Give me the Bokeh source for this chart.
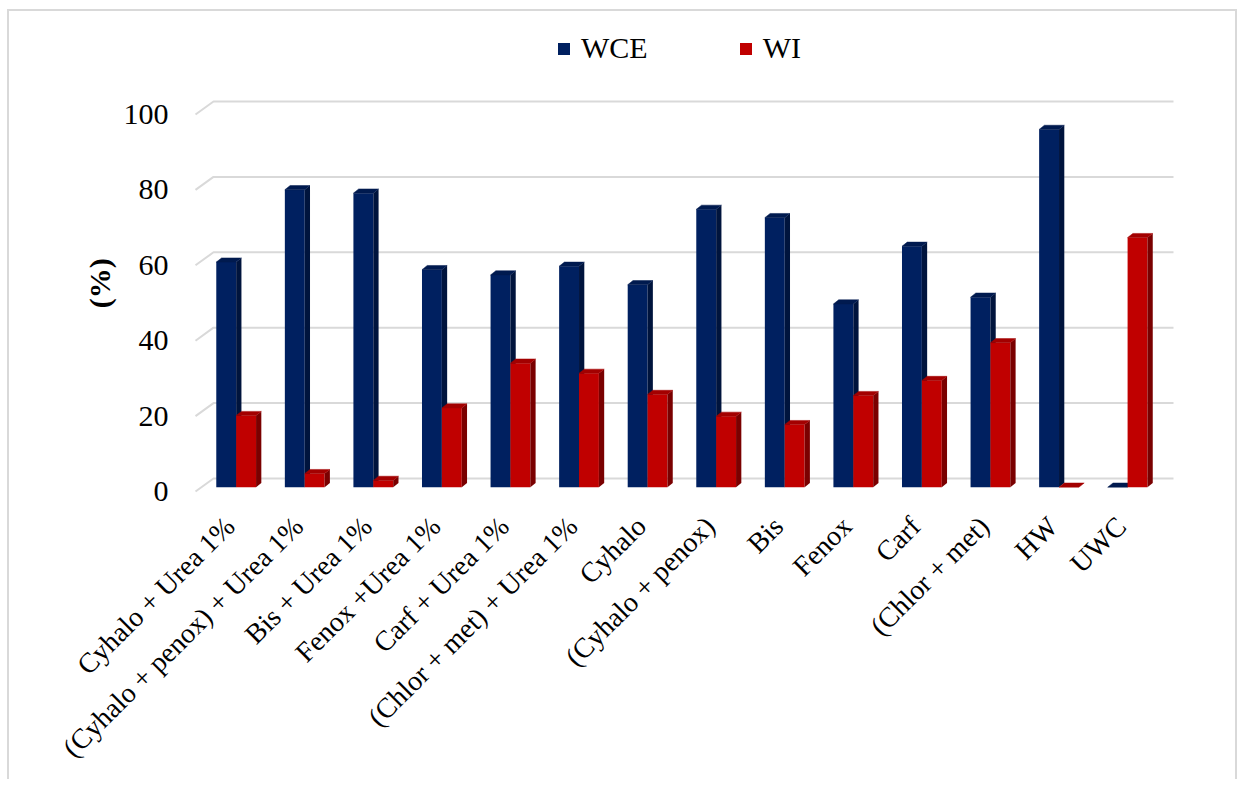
import math
from bokeh.plotting import figure
from bokeh.models import Range1d, FixedTicker, Legend, LegendItem
from bokeh.embed import file_html
from bokeh.resources import INLINE

# ---------------- data ----------------
categories = ["Cyhalo + Urea 1%", "(Cyhalo + penox) + Urea 1%", "Bis + Urea 1%",
              "Fenox +Urea 1%", "Carf + Urea 1%", "(Chlor + met) + Urea 1%",
              "Cyhalo", "(Cyhalo + penox)", "Bis", "Fenox", "Carf",
              "(Chlor + met)", "HW", "UWC"]
wce = [59.7, 78.9, 78.0, 57.7, 56.3, 58.6, 53.7, 73.7, 71.5, 48.6, 63.9, 50.4, 94.9, 0.0]
wi = [19.0, 3.6, 1.8, 21.0, 32.9, 30.2, 24.6, 18.8, 16.6, 24.3, 28.3, 38.3, 0.0, 66.2]
y_ticks = [0, 20, 40, 60, 80, 100]
series_names = ["WCE", "WI"]
y_title = "(%)"

# ---------------- style / 3D geometry (data units) ----------------
FONT = "Liberation Serif"
DEPTH_X, DEPTH_Y = 0.2625, 3.45      # back wall offset
BAR_SHIFT, BAR_W = 0.093, 0.29       # bar placement within category
BAR_BASE = 1.14                      # bar floor position
SIDE_X, SIDE_Y = 0.077, 1.11         # bar depth
GRID = "#d9d9d9"
BLUE = ("#002060", "#00143d", "#001a4f")   # front, side, top
RED = ("#c00000", "#7a0000", "#a30000")

p = figure(width=1230, height=770, output_backend="svg", toolbar_location=None,
           x_range=Range1d(-0.6458, 13.8646), y_range=Range1d(-2.39, 122.81),
           min_border_left=176, min_border_right=59, min_border_top=17,
           min_border_bottom=281)
p.styles = {"margin-left": "7px", "margin-top": "9px",
            "border-top": "2px solid #d9d9d9", "border-left": "2px solid #d9d9d9",
            "border-right": "2px solid #d9d9d9"}
p.outline_line_color = None
p.xgrid.visible = False
p.ygrid.visible = False

# back-wall gridlines + left wall diagonals
n = len(categories)
gx, gy = [], []
for t in y_ticks:
    gx.append([-0.5, -0.5 + DEPTH_X, n - 0.5 + DEPTH_X])
    gy.append([t, t + DEPTH_Y, t + DEPTH_Y])
p.multi_line(gx, gy, line_color=GRID, line_width=2)


def draw_series(vals, offset_left, colors):
    lefts = [i + BAR_SHIFT + offset_left for i in range(n)]
    rights = [l + BAR_W for l in lefts]
    bottoms = [BAR_BASE] * n
    tops = [BAR_BASE + v for v in vals]
    front = p.quad(left=lefts, right=rights, bottom=bottoms, top=tops,
                   fill_color=colors[0], line_color=None)
    sxs, sys_, txs, tys = [], [], [], []
    for l, r, b, t in zip(lefts, rights, bottoms, tops):
        sxs.append([r, r + SIDE_X, r + SIDE_X, r])
        sys_.append([b, b + SIDE_Y, t + SIDE_Y, t])
        txs.append([l, l + SIDE_X, r + SIDE_X, r])
        tys.append([t, t + SIDE_Y, t + SIDE_Y, t])
    p.patches(sxs, sys_, fill_color=colors[1], line_color=None)
    p.patches(txs, tys, fill_color=colors[2], line_color=colors[2], line_width=0.5)
    return front


r_wce = draw_series(wce, -BAR_W, BLUE)
r_wi = draw_series(wi, 0.0, RED)

# axes
p.xaxis.ticker = FixedTicker(ticks=list(range(n)))
p.xaxis.major_label_overrides = {i: c for i, c in enumerate(categories)}
p.xaxis.major_label_orientation = math.pi / 4
p.xaxis.major_label_text_font = FONT
p.xaxis.major_label_text_font_size = "28px"
p.xaxis.major_label_text_color = "black"
p.xaxis.major_label_standoff = 15
p.xaxis.axis_line_color = None
p.xaxis.major_tick_line_color = None
p.xaxis.minor_tick_line_color = None

p.yaxis.ticker = FixedTicker(ticks=y_ticks)
p.yaxis.major_label_text_font = FONT
p.yaxis.major_label_text_font_size = "30px"
p.yaxis.major_label_text_color = "black"
p.yaxis.major_label_standoff = 11
p.yaxis.axis_line_color = None
p.yaxis.major_tick_line_color = None
p.yaxis.minor_tick_line_color = None
# trailing no-break spaces move the centred title down to the plot-area middle
p.yaxis.axis_label = y_title + "\u00a0" * 5
p.yaxis.axis_label_text_font = FONT
p.yaxis.axis_label_text_font_style = "bold"
p.yaxis.axis_label_text_font_size = "30px"
p.yaxis.axis_label_text_color = "black"
p.yaxis.axis_label_standoff = 5

legend = Legend(items=[LegendItem(label=series_names[0], renderers=[r_wce]),
                       LegendItem(label=series_names[1], renderers=[r_wi])],
                orientation="horizontal", location=(371, 435),
                glyph_width=15, glyph_height=15, label_standoff=10, spacing=90,
                padding=0, margin=0, border_line_color=None,
                background_fill_alpha=0,
                label_text_font=FONT, label_text_font_size="30px",
                label_text_color="black")
p.add_layout(legend)

open("out.html", "w").write(file_html(p, INLINE))
